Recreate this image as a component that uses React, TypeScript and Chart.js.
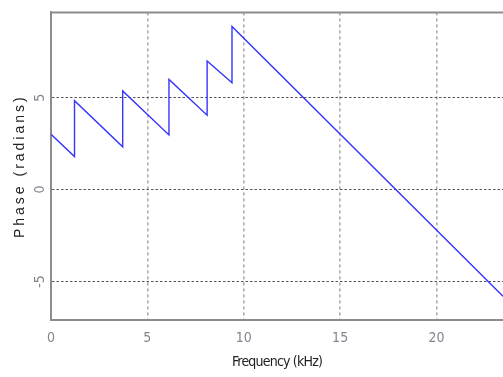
import React, { useEffect, useRef } from 'react';
import { Chart, registerables, LinearScale } from 'chart.js';

Chart.register(...registerables);

class SpacedTitleLinearScale extends LinearScale {
  static id = 'spacedLinear';
  static defaults = LinearScale.defaults;
  drawTitle() {
    const ctx: any = this.ctx;
    ctx.save();
    ctx.letterSpacing = (this.options as any).titleSpacing || '0px';
    super.drawTitle();
    ctx.restore();
  }
}
Chart.register(SpacedTitleLinearScale as any);

// Data (frequency in kHz, phase in radians)
const freqKHz = [0, 1.22, 1.22, 3.72, 3.72, 6.12, 6.12, 8.1, 8.1, 9.39, 9.39, 23.45];
const phaseRad = [3.01, 1.8, 4.84, 2.33, 5.37, 2.98, 6.0, 4.05, 7.0, 5.82, 8.88, -5.81];

const xTickStep = 5;
const yTickStep = 5;
const xTitle = 'Frequency (kHz)';
const yTitle = 'Phase (radians)';

const FONT = "'Liberation Sans Narrow', 'DejaVu Sans Condensed', 'Arial Narrow', sans-serif";

const topBorder = {
  id: 'topBorder',
  afterDraw(chart: any) {
    const { ctx, chartArea } = chart;
    ctx.save();
    ctx.strokeStyle = '#8c8c8c';
    ctx.lineWidth = 2;
    ctx.beginPath();
    ctx.moveTo(chartArea.left - 1, chartArea.top);
    ctx.lineTo(chartArea.right, chartArea.top);
    ctx.stroke();
    ctx.restore();
  },
};

export default function App() {
  const ref = useRef<HTMLCanvasElement>(null);
  useEffect(() => {
    const chart = new Chart(ref.current!, {
      type: 'line',
      data: {
        datasets: [
          {
            data: freqKHz.map((x, i) => ({ x, y: phaseRad[i] })),
            borderColor: '#3535ff',
            borderWidth: 1.4,
            pointRadius: 0,
            tension: 0,
            fill: false,
          },
        ],
      },
      options: {
        animation: false,
        responsive: false,
        maintainAspectRatio: false,
        layout: { padding: { top: 8, left: 0, right: 0, bottom: 0 } },
        plugins: { legend: { display: false }, tooltip: { enabled: false } },
        scales: {
          x: {
            type: 'spacedLinear' as any,
            titleSpacing: '-0.8px',
            min: 0,
            max: 23.45,
            afterFit: (s: any) => {
              s.height = 57;
            },
            ticks: {
              stepSize: xTickStep,
              includeBounds: false,
              padding: 10,
              maxRotation: 0,
              color: '#858590',
              font: { family: FONT, size: 14 },
            },
            grid: { color: '#ababab', lineWidth: 1.6, drawTicks: false },
            border: { display: true, color: '#8c8c8c', width: 2, dash: [3, 3] },
            title: {
              display: true,
              text: xTitle,
              color: '#222',
              font: { family: FONT, size: 14 },
              padding: { top: 0, bottom: 6.6 },
            },
          } as any,
          y: {
            type: 'spacedLinear' as any,
            titleSpacing: '3px',
            min: -7.1,
            max: 9.65,
            afterFit: (s: any) => {
              s.width = 51;
            },
            ticks: {
              stepSize: yTickStep,
              includeBounds: false,
              minRotation: 90,
              maxRotation: 90,
              crossAlign: 'center',
              padding: 4,
              color: '#858590',
              font: { family: FONT, size: 14 },
            },
            grid: { color: '#555555', lineWidth: 1, drawTicks: false },
            border: { display: true, color: '#8c8c8c', width: 2, dash: [2.5, 2] },
            title: {
              display: true,
              text: yTitle,
              color: '#222',
              font: { family: "'Liberation Sans', Arial, sans-serif", size: 14 },
              padding: { top: 11.6, bottom: 0 },
            },
          } as any,
        },
      },
      plugins: [topBorder],
    });
    return () => chart.destroy();
  }, []);
  return (
    <div style={{ position: 'fixed', left: 0, top: 0, width: 503, height: 377, background: '#fff' }}>
      <canvas ref={ref} width={503} height={377} style={{ width: 503, height: 377, display: 'block' }} />
    </div>
  );
}
